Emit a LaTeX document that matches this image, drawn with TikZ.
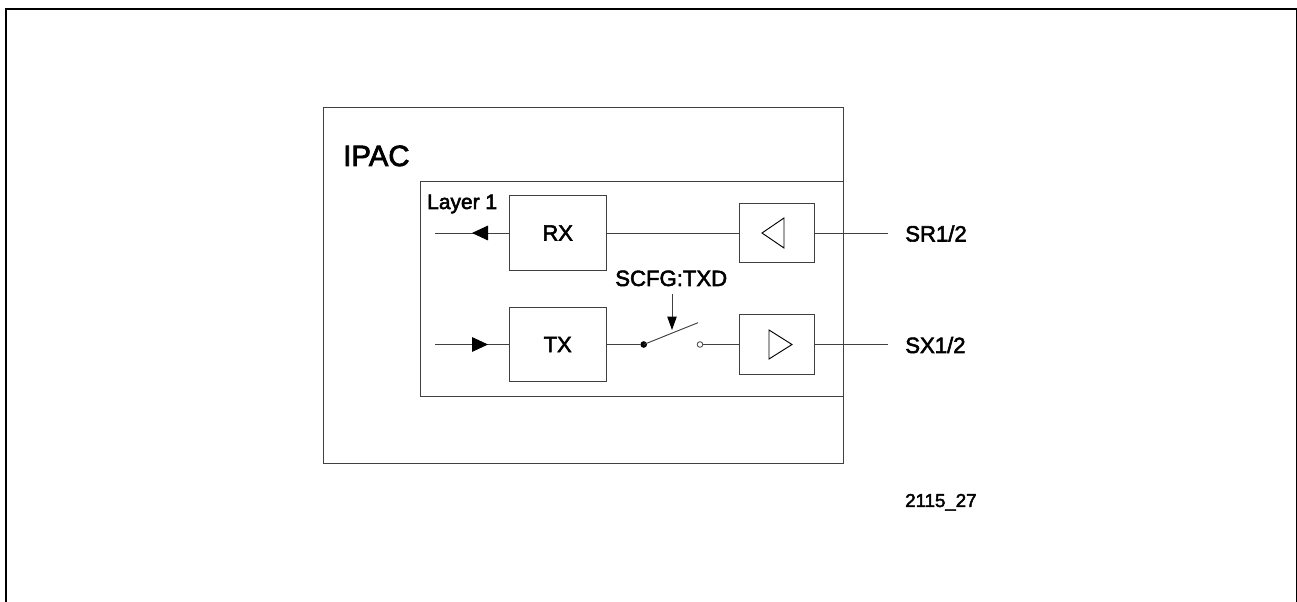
\documentclass[tikz,border=0pt]{standalone}
\usepackage{fontspec}
\setmainfont{Liberation Sans}
\newfontfamily\heavy[FakeBold=2.5]{Liberation Sans}
\usetikzlibrary{arrows.meta}
\tikzset{
  wire/.style={draw=black!75,line width=0.7pt},
  blockbox/.style={draw=black!75,line width=0.7pt,minimum width=72.5pt,minimum height=55.7pt,inner sep=0pt,text=black,font=\heavy\fontsize{16.4pt}{18pt}\selectfont},
  ampbox/.style={draw=black!75,line width=0.7pt,minimum width=56pt,minimum height=44.5pt,inner sep=0pt},
  labeltext/.style={inner sep=0pt,text=black,font=\heavy\fontsize{16.6pt}{18pt}\selectfont,anchor=base west},
  tri/.style={draw=black,line width=0.7pt,line join=miter},
  head/.style={-{Triangle[length=12pt,width=11pt,black]}},
  headsmall/.style={-{Triangle[length=10pt,width=7pt,black]}},
  pinfill/.style={circle,fill=black,inner sep=0pt,minimum size=5pt},
  pinopen/.style={circle,draw=black!75,fill=white,line width=0.6pt,inner sep=0pt,minimum size=4.2pt}
}
\begin{document}
\begin{tikzpicture}[x=0.75pt,y=-0.75pt]
\useasboundingbox (0,0) rectangle (1297,602);
\fill[white] (0,0) rectangle (1297,602);
\coordinate (bl) at (6,602);
\coordinate (tl) at (6,9);
\coordinate (tr) at (1297,9);
\coordinate (br) at (1297,602);
\draw[black,line width=1.7pt] (bl) -- (tl) -- (tr) -- (br);
\node[draw=black!75,line width=0.7pt,minimum width=390pt,minimum height=267pt,inner sep=0pt] (ipac) at (583.5,285.5) {};
\node[draw=black!75,line width=0.7pt,minimum width=317pt,minimum height=161.5pt,inner sep=0pt] (layer) at (631.7,289.2) {};
\node[labeltext,font=\heavy\fontsize{22pt}{24pt}\selectfont] (ipactxt) at (343,166) {IPAC};
\node[labeltext,font=\heavy\fontsize{15.7pt}{18pt}\selectfont] (layertxt) at (427,209) {Layer 1};
\node[blockbox] (rx) at (557.7,233) {RX};
\node[blockbox] (tx) at (557.7,344.5) {TX};
\node[ampbox] (ampr) at (776.7,233) {};
\node[ampbox] (ampx) at (776.7,344.5) {};
\draw[tri] (784,218) -- (762,233) -- (784,248) -- cycle;
\draw[tri] (769,330) -- (792,344.5) -- (769,359) -- cycle;
\coordinate (inr) at (435,233);
\coordinate (inx) at (435,344.5);
\coordinate (arrr) at (472,233);
\coordinate (arrx) at (488,344.5);
\draw[wire] (rx.west) -- (inr);
\draw[wire,head] (rx.west) -- (arrr);
\draw[wire] (inx) -- (tx.west);
\draw[wire,head] (inx) -- (arrx);
\draw[wire] (rx.east) -- (ampr.west);
\node[pinfill] (swa) at (643.7,344.5) {};
\node[pinopen] (swb) at (700,344.5) {};
\coordinate (swtip) at (698,322.7);
\draw[wire] (tx.east) -- (swa);
\draw[wire] (swa.center) -- (swtip);
\draw[wire] (swb) -- (ampx.west);
\node[labeltext] (scfg) at (615,286) {SCFG:TXD};
\coordinate (scfgfrom) at (672,294);
\coordinate (scfgto) at (672,330);
\draw[wire,headsmall] (scfgfrom) -- (scfgto);
\node[labeltext] (sr) at (905,241.5) {SR1/2};
\node[labeltext] (sx) at (905,353) {SX1/2};
\coordinate (srend) at (888,233);
\coordinate (sxend) at (888,344.5);
\draw[wire] (ampr.east) -- (srend);
\draw[wire] (ampx.east) -- (sxend);
\node[labeltext,font=\heavy\fontsize{14pt}{16pt}\selectfont] (code) at (905,507) {2115\_27};
\end{tikzpicture}
\end{document}
